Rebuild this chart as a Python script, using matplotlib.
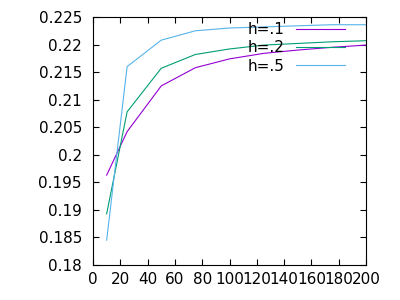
import matplotlib
matplotlib.use("Agg")
import matplotlib.pyplot as plt

x = [10, 25, 50, 75, 100, 125, 150, 175, 200]
h1 = [0.1963, 0.2042, 0.2125, 0.2158, 0.2174, 0.2184, 0.2190, 0.2195, 0.2199]
h2 = [0.1893, 0.2078, 0.2157, 0.2182, 0.2192, 0.2199, 0.2202, 0.2205, 0.2207]
h5 = [0.1845, 0.2160, 0.2208, 0.2225, 0.2230, 0.2232, 0.2234, 0.2236, 0.2236]
labels = ["h=.1", "h=.2", "h=.5"]
colors = ["#9400D3", "#009E73", "#56B4E9"]

xticks = list(range(0, 201, 20))
yticks = [0.18, 0.185, 0.19, 0.195, 0.2, 0.205, 0.21, 0.215, 0.22, 0.225]
yticklabels = ["0.18", "0.185", "0.19", "0.195", "0.2", "0.205", "0.21", "0.215", "0.22", "0.225"]

fig = plt.figure(figsize=(4, 3), dpi=100)
ax = fig.add_axes([93/400, 35/300, 273/400, 248/300])
for ys, lab, c in zip([h1, h2, h5], labels, colors):
    ax.plot(x, ys, color=c, lw=0.8, label=lab)

ax.set_xlim(0, 200)
ax.set_ylim(0.18, 0.225)
ax.set_xticks(xticks)
ax.set_xticklabels([str(t) for t in xticks])
ax.set_yticks(yticks)
ax.set_yticklabels(yticklabels)
ax.tick_params(direction="in", length=4.5, width=0.8, top=True, right=True,
               labelsize=11, colors="black")
ax.tick_params(axis="y", pad=8)
ax.tick_params(axis="x", pad=5)
for s in ax.spines.values():
    s.set_linewidth(0.8)

leg = ax.legend(loc="upper right", bbox_to_anchor=(0.923, 0.98), frameon=False,
                markerfirst=False, fontsize=11, handlelength=3.2,
                handletextpad=0.75, labelspacing=0.22, borderpad=0, borderaxespad=0)

fig.savefig("out.png", dpi=100)
